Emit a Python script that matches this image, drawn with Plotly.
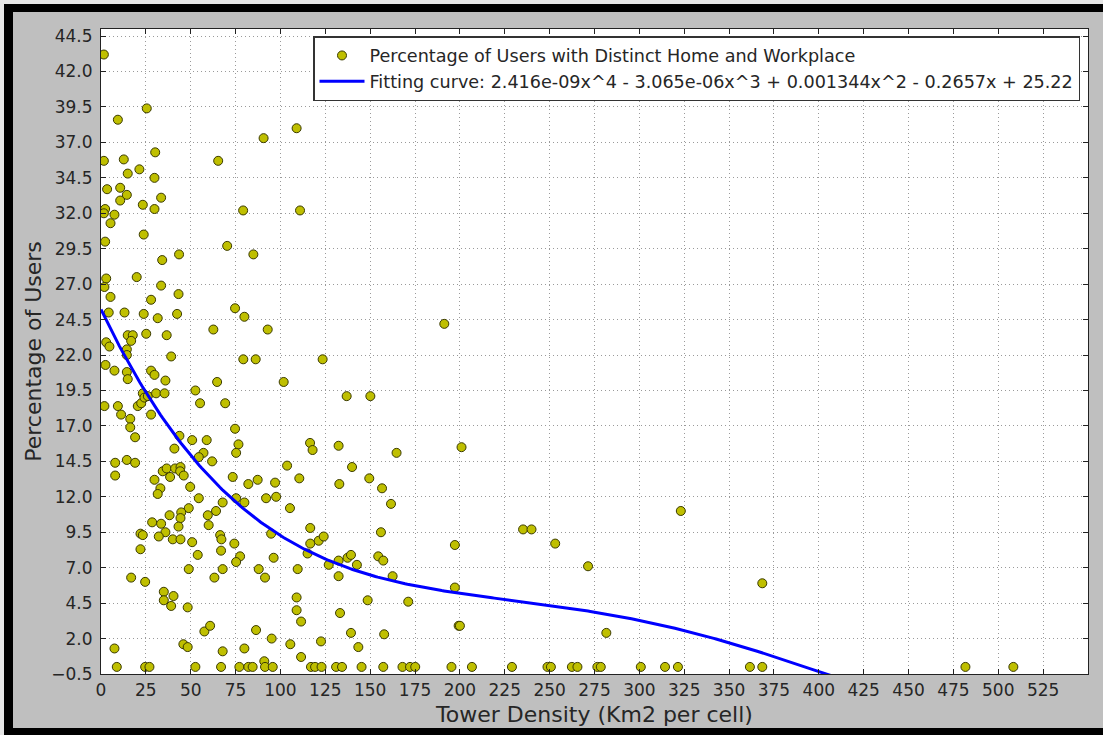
import numpy as np
import plotly.graph_objects as go

# Tower density (Km2 per cell) and share of users with distinct home/workplace (%)
density = [
    1.6, 25.5, 9.4, 90.6, 109.0, 1.6, 12.7, 30.2, 65.3, 14.9, 21.4, 29.8, 3.4, 10.7,
    14.4, 10.7, 33.5, 23.3, 29.8, 2.3, 1.6, 7.5, 5.3, 79.2, 110.9, 23.8, 2.3, 70.3,
    84.9, 43.5, 34.1, 19.9, 2.9, 1.9, 33.5, 5.3, 27.9, 43.2, 4.3, 13.1, 23.8, 42.4,
    31.6, 74.7, 79.9, 62.6, 92.9, 191.3, 14.9, 17.7, 25.2, 36.6, 16.8, 2.9, 4.7, 14.4,
    14.4, 39.1, 79.3, 86.2, 123.5, 2.5, 7.5, 27.9, 14.4, 29.8, 14.9, 35.9, 64.7, 101.8,
    1.9, 9.4, 11.2, 16.3, 16.3, 19.0, 20.5, 22.4, 23.3, 24.2, 26.1, 30.7, 35.4, 27.9,
    52.6, 55.2, 69.2, 136.9, 150.1, 74.7, 76.6, 75.3, 43.7, 50.8, 58.9, 40.9, 57.1, 54.5,
    61.9, 7.9, 14.4, 19.0, 7.9, 103.7, 34.4, 36.6, 41.3, 44.3, 44.1, 46.1, 38.5, 29.8,
    33.1, 31.6, 49.7, 73.4, 82.1, 87.3, 97.0, 97.6, 92.0, 105.3, 54.5, 75.3, 79.9, 67.8,
    64.1, 48.9, 44.7, 44.3, 38.2, 43.2, 28.5, 33.5, 59.5, 60.0, 66.4, 67.1, 66.9, 35.9,
    32.2, 22.0, 23.3, 40.0, 44.3, 22.0, 50.8, 53.9, 74.3, 77.5, 75.3, 94.8, 96.2, 48.9,
    67.8, 63.2, 87.9, 91.4, 16.8, 24.6, 35.0, 35.0, 40.4, 39.1, 48.3, 57.6, 60.8, 86.4,
    95.1, 105.5, 45.9, 48.3, 7.5, 79.9, 67.8, 91.0,
    116.5, 117.9, 132.4, 164.7, 200.9, 110.5, 139.9, 132.8, 149.5, 156.6, 161.6, 116.6,
    116.6, 121.3, 124.1, 156.0, 197.2, 115.1, 126.9, 132.4, 137.4, 139.3, 142.6, 154.5,
    157.3, 109.6, 132.4, 162.5, 197.2, 109.0, 109.0, 111.5, 148.6, 171.2, 133.2, 139.3,
    157.8, 199.3, 200.0, 122.6, 143.4, 111.5, 235.2, 239.9, 253.1, 271.4, 323.1, 368.5,
    281.6,
    8.8, 24.6, 27.0, 52.6, 66.9, 77.1, 82.1, 84.5, 91.4, 95.7, 117.0, 119.3, 122.9,
    131.0, 134.3, 145.2, 157.3, 168.0, 172.2, 175.1, 195.3, 206.7, 229.0, 248.8, 250.7,
    262.4, 265.5, 276.6, 278.5, 300.8, 314.3, 321.5, 361.6, 368.5, 481.7, 508.4,
]
pct_users = [
    43.2, 39.4, 38.6, 37.3, 38.0, 35.7, 35.8, 36.3, 35.7, 34.8, 35.1, 34.5, 33.7, 33.8,
    33.3, 32.9, 33.1, 32.6, 32.3, 32.3, 32.0, 31.9, 31.3, 32.2, 32.2, 30.5, 30.0, 29.7,
    29.1, 29.1, 28.7, 27.5, 27.4, 26.8, 26.9, 26.1, 25.9, 26.3, 25.0, 25.0, 24.9, 24.9,
    24.6, 25.3, 24.7, 23.8, 23.8, 24.2, 23.4, 23.4, 23.5, 23.4, 23.0, 22.9, 22.6, 22.4,
    22.0, 21.9, 21.7, 21.7, 21.7, 21.3, 20.9, 20.9, 20.8, 20.6, 20.3, 20.2, 20.1, 20.1,
    18.4, 18.4, 17.8, 17.5, 16.9, 16.2, 18.4, 18.6, 19.3, 19.0, 19.1, 19.3, 19.3, 17.8,
    19.5, 18.6, 18.6, 19.1, 19.1, 16.8, 15.7, 15.1, 16.3, 16.0, 16.0, 15.4, 15.1, 14.8,
    14.5, 14.4, 14.6, 14.4, 13.5, 14.2, 13.8, 14.0, 14.0, 14.1, 13.8, 13.5, 13.4, 13.2,
    12.6, 12.2, 12.7, 13.4, 12.9, 13.2, 13.0, 12.0, 11.9, 11.2, 11.9, 11.9, 11.6, 11.6,
    11.0, 11.2, 10.9, 10.5, 10.7, 9.9, 10.2, 10.1, 10.7, 10.0, 9.3, 9.0, 8.2, 9.5,
    9.2, 9.4, 9.3, 9.0, 9.0, 8.3, 8.8, 7.9, 8.7, 7.8, 7.4, 9.4, 7.7, 6.9,
    6.9, 6.3, 6.9, 6.3, 6.3, 6.0, 5.3, 4.7, 5.0, 4.3, 4.2, 2.5, 2.9, 2.6,
    2.0, 1.6, 1.6, 1.4, 1.3, 1.3, 1.1, 0.4,
    15.8, 15.3, 15.6, 15.1, 15.5, 13.3, 14.1, 12.9, 13.3, 12.6, 11.5, 9.8,
    8.7, 8.9, 9.2, 9.5, 8.6, 8.0, 7.2, 7.5, 7.7, 7.9, 7.2, 7.8,
    7.5, 6.9, 6.4, 6.4, 5.6, 4.9, 4.0, 3.2, 4.7, 4.6, 3.8, 2.4,
    2.3, 2.9, 2.9, 1.8, 1.4, 0.7, 9.7, 9.7, 8.7, 7.1, 11.0, 5.9,
    2.4,
    0.0, 0.0, 0.0, 0.0, 0.0, 0.0, 0.0, 0.0, 0.0, 0.0, 0.0, 0.0, 0.0,
    0.0, 0.0, 0.0, 0.0, 0.0, 0.0, 0.0, 0.0, 0.0, 0.0, 0.0, 0.0,
    0.0, 0.0, 0.0, 0.0, 0.0, 0.0, 0.0, 0.0, 0.0, 0.0, 0.0,
]

# 4th-degree polynomial fit, highest power first
fit_coeffs = [2.416e-09, -3.065e-06, 0.001344, -0.2657, 25.22]

x_ticks = list(range(0, 526, 25))
x_tick_labels = [str(v) for v in x_ticks]
y_ticks = [-0.5 + 2.5 * i for i in range(19)]
y_tick_labels = [f"{v:.1f}".replace("-", "\u2212") for v in y_ticks]

W, H = 1103, 735
ML, MR, MT, MB = 101, 15, 29, 61
PW, PH = W - ML - MR, H - MT - MB
FONT = "DejaVu Sans"


def fx(px):
    return (px - ML) / PW


def fy(py):
    return (H - MB - py) / PH


fit_x = np.linspace(0, max(density), 400)
fit_y = np.polyval(fit_coeffs, fit_x)

scatter_name = "Percentage of Users with Distinct Home and Workplace"
fit_name = ("Fitting curve: 2.416e-09x^4 - 3.065e-06x^3 + 0.001344x^2 "
            "- 0.2657x + 25.22")

fig = go.Figure()
fig.add_trace(go.Scatter(
    x=density, y=pct_users, mode="markers", name=scatter_name,
    marker=dict(size=9, color="#bfbf00", line=dict(color="#3a3a00", width=1)),
))
fig.add_trace(go.Scatter(
    x=fit_x, y=fit_y, mode="lines", name=fit_name,
    line=dict(color="#0000ff", width=3),
))

axis_common = dict(
    showline=True, linecolor="#222222", linewidth=1.2, mirror="ticks",
    ticks="inside", ticklen=5, tickwidth=1, tickcolor="#222222",
    showgrid=True, gridcolor="#9a9a9a", griddash="1px,3px", gridwidth=1,
    zeroline=False, tickfont=dict(family=FONT, size=17, color="#262626"),
)

fig.update_xaxes(
    range=[0, 550], tickmode="array", tickvals=x_ticks, ticktext=x_tick_labels,
    title=dict(text="Tower Density (Km2 per cell)", standoff=8,
               font=dict(family=FONT, size=22, color="#262626")),
    **axis_common,
)
fig.update_yaxes(
    range=[-0.5, 45], tickmode="array", tickvals=y_ticks, ticktext=y_tick_labels,
    ticklabelstandoff=4,
    title=dict(text="Percentage of Users", standoff=3,
               font=dict(family=FONT, size=22, color="#262626")),
    **axis_common,
)

# Outer frame: light strip, black border and gray figure face
frame = [
    dict(x0=0, x1=W, y0=0, y1=4, color="#e6e6e6"),
    dict(x0=0, x1=4, y0=0, y1=H, color="#e6e6e6"),
    dict(x0=4, x1=W, y0=4, y1=12, color="#000000"),
    dict(x0=4, x1=13, y0=4, y1=H, color="#000000"),
    dict(x0=4, x1=W, y0=728, y1=H, color="#000000"),
]
shapes = [
    dict(type="rect", xref="paper", yref="paper",
         x0=fx(r["x0"]), x1=fx(r["x1"]), y0=fy(r["y1"]), y1=fy(r["y0"]),
         fillcolor=r["color"], line=dict(width=0), layer="below")
    for r in frame
]

fig.update_layout(
    width=W, height=H,
    margin=dict(l=ML, r=MR, t=MT, b=MB, pad=0),
    paper_bgcolor="#bfbfbf", plot_bgcolor="#ffffff",
    font=dict(family=FONT, size=17, color="#262626"),
    shapes=shapes,
    showlegend=True,
    legend=dict(
        x=fx(1080), xanchor="right", y=fy(36), yanchor="top",
        bgcolor="#ffffff", bordercolor="#333333", borderwidth=1.5,
        font=dict(family=FONT, size=17.6, color="#262626"),
        itemwidth=45, tracegroupgap=0,
    ),
)

fig.write_html("out.html")
